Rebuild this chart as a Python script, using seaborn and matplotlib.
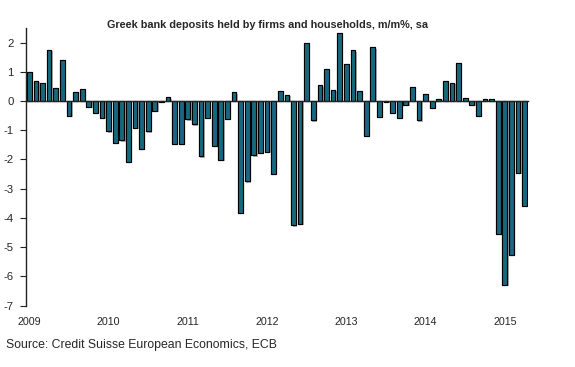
import matplotlib
matplotlib.use("Agg")
import matplotlib.pyplot as plt
import matplotlib.patheffects as pe
import numpy as np
import pandas as pd
import seaborn as sns

# ---------------------------------------------------------------------------
# Data: monthly change in deposits, m/m %, Jan 2009 - Apr 2015
# ---------------------------------------------------------------------------
vals_2009 = [1.00, 0.69, 0.60, 1.75, 0.45, 1.39, -0.50, 0.32, 0.42, -0.19, -0.40, -0.58]
vals_2010 = [-1.04, -1.42, -1.35, -2.08, -0.91, -1.63, -1.04, -0.34, -0.03, 0.12, -1.46, -1.46]
vals_2011 = [-0.63, -0.80, -1.89, -0.58, -1.53, -2.01, -0.60, 0.30, -3.83, -2.74, -1.86, -1.77]
vals_2012 = [-1.74, -2.49, 0.33, 0.21, -4.25, -4.20, 2.00, -0.66, 0.54, 1.08, 0.39, 2.32]
vals_2013 = [1.25, 1.73, 0.33, -1.20, 1.84, -0.54, -0.03, -0.40, -0.58, -0.14, 0.49, -0.66]
vals_2014 = [0.23, -0.23, 0.08, 0.70, 0.63, 1.30, 0.11, -0.12, -0.51, 0.08, 0.08, -4.55]
vals_2015 = [-6.29, -5.26, -2.46, -3.58]

values = vals_2009 + vals_2010 + vals_2011 + vals_2012 + vals_2013 + vals_2014 + vals_2015
months = pd.date_range("2009-01-01", periods=len(values), freq="MS")
year_labels = ["2009", "2010", "2011", "2012", "2013", "2014", "2015"]
y_ticks = [2, 1, 0, -1, -2, -3, -4, -5, -6, -7]

df = pd.DataFrame({"month": months.strftime("%Y-%m"), "change": values})

BAR_COLOR = "#17677f"

sns.set_style("white")
plt.rcParams["font.family"] = ["Liberation Sans", "DejaVu Sans"]

fig = plt.figure(figsize=(5.75, 3.67), dpi=100)
ax = fig.add_axes([0.0452, 0.167, 0.873, 0.757])

sns.barplot(data=df, x="month", y="change", color=BAR_COLOR, saturation=1,
            edgecolor="black", linewidth=0.8, width=0.72, ax=ax)

# soft grey drop shadow like the original
shadow = [pe.withSimplePatchShadow(offset=(1.0, -1.0), shadow_rgbFace="0.45", alpha=0.55),
          pe.Normal()]
for bar in ax.patches:
    bar.set_path_effects(shadow)

ax.set_xlim(-0.5, len(values) - 0.5)
ax.set_ylim(-7, 2.5)
ax.set_xlabel("")
ax.set_ylabel("")

# zero line acts as the x axis, with small ticks between months
for s in ["top", "right"]:
    ax.spines[s].set_visible(False)
ax.spines["bottom"].set_position(("data", 0))
ax.spines["bottom"].set_linewidth(1.0)
ax.spines["bottom"].set_color("#222222")
ax.spines["left"].set_linewidth(1.0)
ax.spines["left"].set_color("#222222")
ax.set_xticks([])
ax.set_xticks(np.arange(len(values) + 1) - 0.5, minor=True)
ax.tick_params(axis="x", which="minor", direction="out", length=3, width=0.8, color="#222222")

ax.set_yticks(y_ticks)
ax.set_yticklabels([str(t) for t in y_ticks])
ax.tick_params(axis="y", direction="out", length=4, width=0.8, color="#222222",
               pad=5, labelsize=8.2)
ax.tick_params(axis="y", left=True)

# year labels along the bottom
sec = ax.secondary_xaxis("bottom")
sec.set_xticks(np.arange(0, len(values), 12))
sec.set_xticklabels(year_labels)
sec.tick_params(length=0, labelsize=7.7, pad=8)
sec.spines["bottom"].set_visible(False)

fig.text(0.465, 0.932, "Greek bank deposits held by firms and households, m/m%, sa",
         ha="center", va="center", fontsize=7.8, fontweight="bold")
fig.text(0.01, 0.06, "Source: Credit Suisse European Economics, ECB",
         ha="left", va="center", fontsize=8.8)

fig.savefig("out.png", dpi=100)
